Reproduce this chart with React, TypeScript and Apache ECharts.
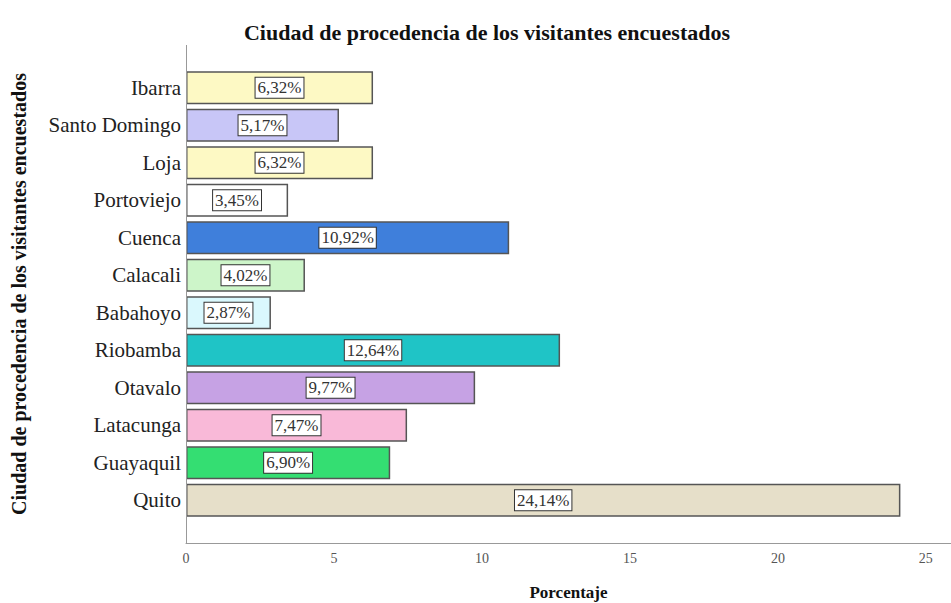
import React, { useEffect, useRef } from "react";
import * as echarts from "echarts";

const categories = [
  "Quito", "Guayaquil", "Latacunga", "Otavalo", "Riobamba", "Babahoyo",
  "Calacali", "Cuenca", "Portoviejo", "Loja", "Santo Domingo", "Ibarra",
];
const values = [24.14, 6.9, 7.47, 9.77, 12.64, 2.87, 4.02, 10.92, 3.45, 6.32, 5.17, 6.32];
const barColors = [
  "#E6DFC9", "#34DE72", "#F9B9D8", "#C6A2E4", "#1FC4C6", "#DAF8FD",
  "#CDF5C9", "#3F7FDB", "#FFFFFF", "#FDF9C4", "#C8C6F7", "#FDF9C4",
];
const xTicks = [0, 5, 10, 15, 20, 25];

const SERIF = "'Liberation Serif', 'Times New Roman', serif";

export default function App() {
  const ref = useRef<HTMLDivElement>(null);
  useEffect(() => {
    document.body.style.margin = "0";
    if (!ref.current) return;
    const chart = echarts.init(ref.current, undefined, { renderer: "svg" });
    chart.setOption({
      animation: false,
      backgroundColor: "#ffffff",
      title: {
        text: "Ciudad de procedencia de los visitantes encuestados",
        left: 482,
        textAlign: "center",
        top: 16,
        textStyle: { fontFamily: SERIF, fontWeight: "bold", fontSize: 22, color: "#111" },
      },
      grid: {
        left: 186, right: 0, top: 69, bottom: 84,
        containLabel: false, outerBoundsMode: "none",
      },
      xAxis: {
        type: "value",
        min: 0,
        max: 25.85,
        interval: 5,
        offset: 24,
        axisLine: { show: true, lineStyle: { color: "#999", width: 1 } },
        axisTick: { show: false },
        splitLine: { show: false },
        axisLabel: {
          fontFamily: SERIF,
          fontSize: 14,
          color: "#555",
          margin: 8,
          formatter: (v: number) => (xTicks.includes(v) ? String(v) : ""),
        },
        name: "Porcentaje",
        nameLocation: "middle",
        nameGap: 41,
        nameTextStyle: { fontFamily: SERIF, fontWeight: "bold", fontSize: 17, color: "#111" },
      },
      yAxis: {
        type: "category",
        data: categories,
        axisLine: { show: false },
        axisTick: { show: false },
        axisLabel: { fontFamily: SERIF, fontSize: 21, color: "#222", margin: 5 },
        name: "Ciudad de procedencia de los visitantes encuestados",
        nameLocation: "middle",
        nameGap: 157,
        nameRotate: 90,
        nameTextStyle: { fontFamily: SERIF, fontWeight: "bold", fontSize: 20, color: "#111" },
      },
      graphic: [
        {
          type: "line",
          shape: { x1: 186.5, y1: 45, x2: 186.5, y2: 543 },
          style: { stroke: "#999", lineWidth: 1 },
          z: 10,
        },
      ],
      series: [
        {
          type: "bar",
          data: values.map((v, i) => ({
            value: v,
            itemStyle: { color: barColors[i] },
          })),
          barCategoryGap: "12%",
          itemStyle: { borderColor: "#555", borderWidth: 1.5 },
          label: {
            show: true,
            position: "inside",
            fontFamily: SERIF,
            fontSize: 17,
            color: "#333",
            backgroundColor: "#ffffff",
            borderColor: "#333",
            borderWidth: 1,
            padding: [2, 2, 1, 2],
            formatter: (p: any) => p.value.toFixed(2).replace(".", ",") + "%",
          },
        },
      ],
    });
    return () => chart.dispose();
  }, []);
  return <div ref={ref} style={{ width: 951, height: 603 }} />;
}
